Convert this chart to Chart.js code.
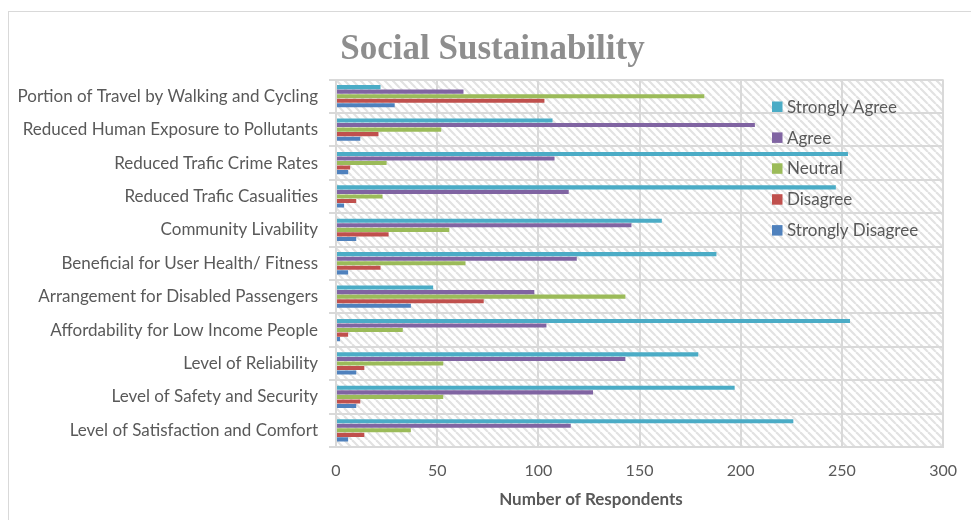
<!DOCTYPE html>
<html>
<head>
<meta charset="utf-8">
<title>Social Sustainability</title>
<script src="https://cdn.jsdelivr.net/npm/chart.js@4.4.1/dist/chart.umd.min.js"></script>
<style>
    body{margin:0;background:#fff;}
    #wrap{width:971px;height:520px;}
</style>
</head>
<body>
<div id="wrap"><canvas id="myChart" width="971" height="520"></canvas></div>
<script>
//Categories top to bottom
var categories=[
    'Portion of Travel by Walking and Cycling',
    'Reduced Human Exposure to Pollutants',
    'Reduced Trafic Crime Rates',
    'Reduced Trafic Casualities',
    'Community Livability',
    'Beneficial for User Health/ Fitness',
    'Arrangement for Disabled Passengers',
    'Affordability for Low Income People',
    'Level of Reliability',
    'Level of Safety and Security',
    'Level of Satisfaction and Comfort'
];

//Number of respondents per answer
var stronglyAgree=[22,107,253,247,161,188,48,254,179,197,226];
var agree=[63,207,108,115,146,119,98,104,143,127,116];
var neutral=[182,52,25,23,56,64,143,33,53,53,37];
var disagree=[103,21,7,10,26,22,73,6,14,12,14];
var stronglyDisagree=[29,12,6,4,10,6,37,2,10,10,6];

var xTicks=[0,50,100,150,200,250,300];
var xTitle='Number of Respondents';

var textFont='Lato, "Open Sans", sans-serif';
var gridColor='#d9d9d9';

//diagonal hatch for the plot area
function makeHatch(){
    var c=document.createElement('canvas');
    c.width=8;c.height=8;
    var g=c.getContext('2d');
    g.fillStyle='#ffffff';
    g.fillRect(0,0,8,8);
    g.strokeStyle='#e2e2e2';
    g.lineWidth=2.2;
    for(let k=-8;k<=8;k+=8){
        g.beginPath();
        g.moveTo(k,0);
        g.lineTo(k+8,8);
        g.stroke();
    }
    return g.createPattern(c,'repeat');
}

var backgroundPlugin={
    id:'background',
    beforeDraw(chart){
        const ctx=chart.ctx;
        const a=chart.chartArea;
        ctx.save();
        ctx.fillStyle='#ffffff';
        ctx.fillRect(0,0,chart.width,chart.height);
        //outer frame
        ctx.strokeStyle=gridColor;
        ctx.lineWidth=1;
        ctx.strokeRect(8.5,11.5,1000,600);
        ctx.fillStyle=makeHatch();
        ctx.fillRect(a.left,a.top,a.right-a.left,a.bottom-a.top);
        ctx.restore();
    }
};

//legend sits inside the plot area on the right, axis title sits left of centre
var innerLegend={
    id:'innerLegend',
    afterDraw(chart){
        const ctx=chart.ctx;
        ctx.save();
        ctx.font='17px '+textFont;
        ctx.textBaseline='middle';
        ctx.textAlign='left';
        chart.data.datasets.forEach(function(ds,i){
            var y=106.7+i*30.9;
            ctx.fillStyle=ds.backgroundColor;
            ctx.fillRect(772,y-5.2,10.5,10.5);
            ctx.fillStyle='#595959';
            ctx.fillText(ds.label,787,y+0.5);
        });
        ctx.font='bold 17px '+textFont;
        ctx.textAlign='center';
        ctx.fillText(xTitle,591,500);
        ctx.restore();
    }
};

const ctx=document.getElementById('myChart').getContext('2d');
const myChart=new Chart(ctx,{
    type:'bar',
    data:{
        labels:categories,
        datasets:[
            {label:'Strongly Agree',data:stronglyAgree,backgroundColor:'#4bacc6'},
            {label:'Agree',data:agree,backgroundColor:'#8064a2'},
            {label:'Neutral',data:neutral,backgroundColor:'#9bbb59'},
            {label:'Disagree',data:disagree,backgroundColor:'#c0504d'},
            {label:'Strongly Disagree',data:stronglyDisagree,backgroundColor:'#4f81bd'}
        ]
    },
    options:{
        indexAxis:'y',
        responsive:false,
        animation:false,
        categoryPercentage:0.68,
        barPercentage:0.9,
        layout:{padding:{left:14,right:0,top:0,bottom:0}},
        plugins:{
            legend:{display:false},
            tooltip:{enabled:false},
            title:{
                display:true,
                text:'Social Sustainability',
                color:'#8e8e8e',
                font:{family:'"Liberation Serif", serif',size:35,weight:'bold'},
                padding:{top:28.5,bottom:9}
            }
        },
        scales:{
            x:{
                type:'linear',
                min:0,
                max:300,
                afterBuildTicks(scale){
                    scale.ticks=xTicks.map(v=>({value:v}));
                },
                afterFit(scale){scale.height=73;},
                ticks:{color:'#595959',font:{family:textFont,size:16},padding:14},
                grid:{color:gridColor,lineWidth:2,drawTicks:false},
                border:{display:true,color:gridColor,width:2}
            },
            y:{
                type:'category',
                afterFit(scale){scale.width=322;},
                ticks:{color:'#595959',font:{family:textFont,size:17},padding:11},
                grid:{color:gridColor,lineWidth:2,tickLength:7,offset:true},
                border:{display:true,color:gridColor,width:2}
            },
            //empty strip on the right so the plot ends before the canvas edge
            yRight:{
                type:'category',
                position:'right',
                afterFit(scale){scale.width=27;},
                ticks:{display:false},
                grid:{display:false},
                border:{display:false}
            }
        }
    },
    plugins:[backgroundPlugin,innerLegend]
});
</script>
</body>
</html>
